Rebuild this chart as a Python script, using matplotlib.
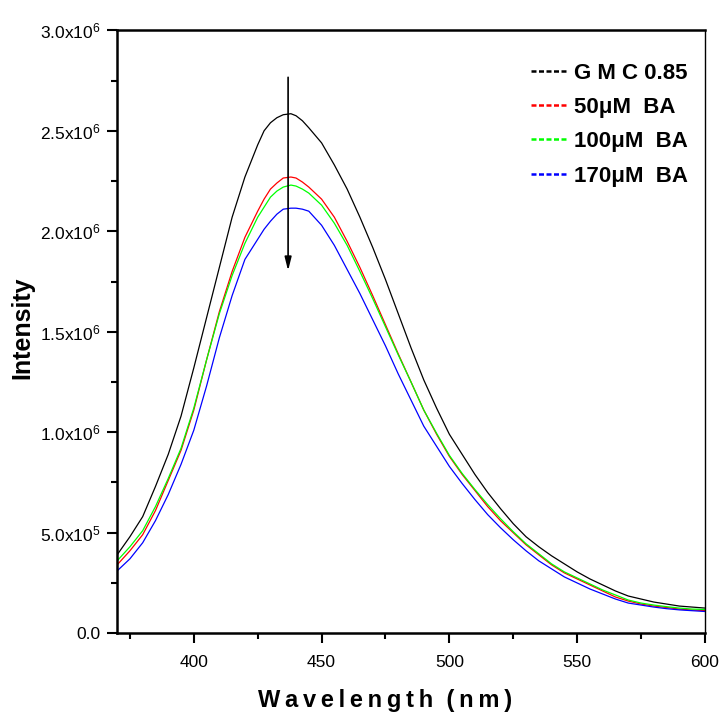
import numpy as np
import matplotlib
matplotlib.use("Agg")
import matplotlib.pyplot as plt
from matplotlib.ticker import MultipleLocator, FuncFormatter

plt.rcParams['font.family'] = ['Liberation Sans', 'DejaVu Sans']
plt.rcParams['mathtext.fontset'] = 'custom'
plt.rcParams['mathtext.rm'] = 'Liberation Sans'
plt.rcParams['mathtext.it'] = 'Liberation Sans'

# wavelength grid (nm) and intensities (x1e6)
wavelength = [370, 375, 380, 385, 390, 395, 400, 405, 410, 415, 420, 425, 427.5, 430, 432.5,
              435, 438, 440, 442.5, 445, 450, 455, 460, 465, 470, 475, 480, 485, 490, 495,
              500, 505, 510, 515, 520, 525, 530, 535, 540, 545, 550, 555, 560, 565, 570,
              575, 580, 585, 590, 595, 600]

gmc = [0.39, 0.48, 0.58, 0.73, 0.89, 1.08, 1.32, 1.57, 1.82, 2.07, 2.27, 2.43, 2.50, 2.54, 2.565,
       2.58, 2.585, 2.575, 2.55, 2.515, 2.44, 2.33, 2.21, 2.07, 1.92, 1.76, 1.59, 1.42, 1.26, 1.12,
       0.99, 0.89, 0.79, 0.70, 0.62, 0.545, 0.48, 0.43, 0.385, 0.345, 0.305, 0.27, 0.24, 0.21, 0.185,
       0.17, 0.155, 0.145, 0.135, 0.13, 0.125]

ba50 = [0.34, 0.41, 0.49, 0.61, 0.76, 0.91, 1.11, 1.36, 1.60, 1.80, 1.97, 2.10, 2.16, 2.21, 2.24,
        2.265, 2.27, 2.265, 2.245, 2.22, 2.16, 2.07, 1.95, 1.82, 1.68, 1.535, 1.39, 1.25, 1.11, 0.99,
        0.88, 0.79, 0.71, 0.63, 0.56, 0.50, 0.44, 0.39, 0.34, 0.30, 0.27, 0.24, 0.21, 0.18, 0.16,
        0.145, 0.135, 0.128, 0.12, 0.115, 0.113]

ba100 = [0.36, 0.43, 0.51, 0.63, 0.77, 0.92, 1.12, 1.36, 1.59, 1.78, 1.94, 2.07, 2.12, 2.17, 2.20,
         2.22, 2.23, 2.225, 2.21, 2.19, 2.13, 2.04, 1.93, 1.80, 1.665, 1.525, 1.385, 1.25, 1.11, 0.995,
         0.885, 0.795, 0.715, 0.64, 0.57, 0.505, 0.445, 0.395, 0.345, 0.305, 0.275, 0.245, 0.215, 0.19, 0.165,
         0.15, 0.14, 0.132, 0.125, 0.12, 0.118]

ba170 = [0.31, 0.37, 0.45, 0.56, 0.69, 0.84, 1.01, 1.23, 1.47, 1.68, 1.86, 1.96, 2.01, 2.05, 2.085,
         2.11, 2.115, 2.115, 2.11, 2.10, 2.03, 1.93, 1.81, 1.69, 1.56, 1.43, 1.29, 1.16, 1.03, 0.93,
         0.83, 0.745, 0.665, 0.59, 0.525, 0.465, 0.41, 0.36, 0.32, 0.28, 0.25, 0.22, 0.195, 0.17, 0.15,
         0.14, 0.13, 0.122, 0.116, 0.112, 0.108]

labels = ['G M C 0.85', '50\u03bcM  BA', '100\u03bcM  BA', '170\u03bcM  BA']
colors = ['black', 'red', '#00ff00', 'blue']

fig = plt.figure(figsize=(7.23, 7.22), dpi=100)
ax = fig.add_axes([0.162, 0.123, 0.813, 0.835])

x = np.array(wavelength)
for series, lab, col in zip([gmc, ba50, ba100, ba170], labels, colors):
    ax.plot(x, np.array(series) * 1e6, color=col, lw=0.9, label=lab)

ax.set_xlim(370, 600)
ax.set_ylim(0, 3.0e6)

ax.xaxis.set_major_locator(MultipleLocator(50))
ax.xaxis.set_minor_locator(MultipleLocator(25))
ax.yaxis.set_major_locator(MultipleLocator(0.5e6))
ax.yaxis.set_minor_locator(MultipleLocator(0.25e6))

def yfmt(v, pos):
    if v <= 0:
        return '0.0'
    exp = int(np.floor(np.log10(v)))
    return '%.1fx10$^{%d}$' % (v / 10**exp, exp)

ax.yaxis.set_major_formatter(FuncFormatter(yfmt))

ax.tick_params(which='both', direction='out', top=False, right=False, width=1.5, labelsize=12.5)
ax.tick_params(which='major', length=7)
ax.tick_params(which='minor', length=4.5)
ax.tick_params(axis='x', pad=9)
ax.tick_params(axis='y', pad=5)
for s in ax.spines.values():
    s.set_linewidth(1.8)
ax.spines['right'].set_linewidth(1.0)

sp = '\u2009'
xl = sp.join('Wavelength') + '  ' + sp.join('(nm)')
ax.set_xlabel(xl, fontsize=17, fontweight='bold', va='center')
ax.xaxis.set_label_coords(0.456, -0.111)
ax.set_ylabel('Intensity', fontsize=18, fontweight='bold', va='center')
ax.yaxis.set_label_coords(-0.1616, 0.507)

# arrow showing the decrease
ax.annotate('', xy=(436.9, 1.79e6), xytext=(436.9, 2.78e6),
            arrowprops=dict(arrowstyle='-|>,head_length=0.8,head_width=0.2', color='black', lw=1.2))

leg = ax.legend(loc='upper left', bbox_to_anchor=(0.686, 0.965), frameon=False,
                prop={'weight': 'bold', 'size': 16}, handlelength=1.6, handletextpad=0.3,
                labelspacing=0.6, borderpad=0)
for h in leg.get_lines():
    h.set_linestyle((0, (2, 1)))
    h.set_linewidth(1.8)

fig.savefig('out.png', dpi=100)
